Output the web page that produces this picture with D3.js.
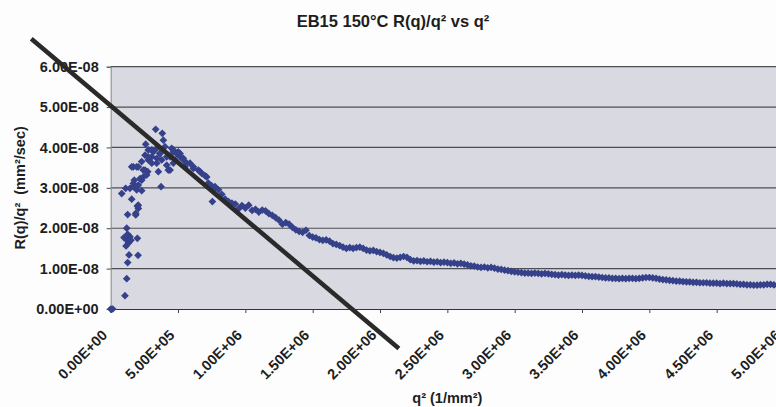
<!DOCTYPE html>
<html><head><meta charset="utf-8">
<script src="https://cdn.jsdelivr.net/npm/d3@7"></script>
<style>
html,body{margin:0;padding:0;background:#fdfdfd;}
svg{display:block;font-family:"Liberation Sans",Arial,sans-serif;}
</style></head>
<body><svg id="c" width="776" height="407"></svg>
<script>
const title = "EB15 150°C R(q)/q² vs q²";
const xTitle = "q² (1/mm²)";
const yTitle = "R(q)/q²  (mm²/sec)";
const Q2_UNIT = 1e5;   // q2 values below are in 1e5 1/mm²
const R_UNIT = 1e-8;   // rq values below are in 1e-8 mm²/sec
const xTickValues = [0,5e5,1e6,1.5e6,2e6,2.5e6,3e6,3.5e6,4e6,4.5e6,5e6];
const xTickLabels = ["0.00E+00","5.00E+05","1.00E+06","1.50E+06","2.00E+06","2.50E+06","3.00E+06","3.50E+06","4.00E+06","4.50E+06","5.00E+06"];
const yTickValues = [0,1e-8,2e-8,3e-8,4e-8,5e-8,6e-8];
const yTickLabels = ["0.00E+00","1.00E-08","2.00E-08","3.00E-08","4.00E-08","5.00E-08","6.00E-08"];

// rising, scattered part
const q2Early = [0,0.15,1.06,1.19,1.26,1.36,2.03,0.99,1.19,1.31,1.14,1.43,1.98,1.19,1.26,1.50,
  1.26,1.86,1.56,1.98,2.05,1.86,2.05,0.82,1.11,1.43,1.68,1.93,2.30,2.05,1.75,2.18,2.42,2.55,2.75,
  1.68,2.05,2.30,2.79,2.55,3.05,3.16,2.79,2.60,3.54,3.74,3.42,3.79,3.66,3.91,3.83,3.34,4.16,4.28,
  4.41,4.65,4.90,5.15,5.39,5.52,5.89,6.14,6.51,6.76,7.55,5.02,4.53,4.78,1.56,1.93,2.30,2.67,3.05,
  3.42,4.16,4.41,4.65,5.15,5.39,5.65,6.14,6.63,7.13,7.75,1.68,2.42,2.79,3.05,3.42,3.66,4.03,4.65,4.90];
const rqEarly = [0,0,0.33,0.75,1.15,1.34,1.33,1.77,1.71,1.63,1.56,1.79,1.75,2.00,1.85,1.70,
  2.34,2.37,2.72,2.55,2.49,2.33,2.57,2.86,2.99,2.99,3.03,2.95,2.93,3.07,3.19,3.23,3.27,3.44,3.40,
  3.52,3.52,3.65,3.69,3.81,3.77,3.89,3.94,4.08,3.40,3.03,3.61,3.69,3.85,4.18,4.35,4.45,3.56,3.44,
  3.77,3.89,3.85,3.77,3.69,3.52,3.61,3.48,3.44,3.36,2.66,3.89,3.98,3.69,3.52,3.52,3.19,3.32,3.61,
  3.73,3.77,3.44,3.61,3.85,3.73,3.61,3.52,3.40,3.27,3.03,3.11,3.44,3.77,3.94,3.98,3.85,4.02,3.94,3.85];

// decaying tail
const q2Tail = [7.00,7.25,7.50,7.75,8.00,8.25,8.50,8.75,9.00,9.25,9.50,9.75,10.00,
  10.25,10.50,10.75,11.00,11.25,11.50,11.75,12.00,12.25,12.50,12.75,13.00,13.25,13.50,13.75,14.00,
  14.25,14.50,14.75,15.00,15.25,15.50,15.75,16.00,16.25,16.50,16.75,17.00,17.25,17.50,17.75,18.00,
  18.25,18.50,18.75,19.00,19.25,19.50,19.75,20.00,20.25,20.50,20.75,21.00,21.25,21.50,21.75,22.00,
  22.25,22.50,22.75,23.00,23.25,23.50,23.75,24.00,24.25,24.50,24.75,25.00,25.25,25.50,25.75,26.00,
  26.25,26.50,26.75,27.00,27.25,27.50,27.75,28.00,28.25,28.50,28.75,29.00,29.25,29.50,29.75,30.00,
  30.25,30.50,30.75,31.00,31.25,31.50,31.75,32.00,32.25,32.50,32.75,33.00,33.25,33.50,33.75,34.00,
  34.25,34.50,34.75,35.00,35.25,35.50,35.75,36.00,36.25,36.50,36.75,37.00,37.25,37.50,37.75,38.00,
  38.25,38.50,38.75,39.00,39.25,39.50,39.75,40.00,40.25,40.50,40.75,41.00,41.25,41.50,41.75,42.00,
  42.25,42.50,42.75,43.00,43.25,43.50,43.75,44.00,44.25,44.50,44.75,45.00,45.25,45.50,45.75,46.00,
  46.25,46.50,46.75,47.00,47.25,47.50,47.75,48.00,48.25,48.50,48.75,49.00,49.25,49.50,49.75,50.00,
  50.25,50.50];
const rqTail = [3.30,3.12,3.05,2.98,2.95,2.84,2.72,2.66,2.62,2.60,2.48,2.56,2.50,
  2.57,2.44,2.47,2.40,2.45,2.43,2.36,2.32,2.26,2.20,2.10,2.14,2.10,2.02,1.96,1.92,
  1.90,1.95,1.82,1.78,1.76,1.72,1.70,1.71,1.68,1.62,1.60,1.57,1.53,1.50,1.52,1.50,
  1.52,1.53,1.50,1.46,1.44,1.45,1.42,1.40,1.38,1.34,1.30,1.27,1.26,1.28,1.30,1.28,
  1.22,1.19,1.20,1.18,1.19,1.17,1.18,1.16,1.17,1.15,1.16,1.15,1.13,1.14,1.12,1.13,
  1.11,1.09,1.07,1.06,1.04,1.03,1.04,1.02,1.03,1.01,0.99,0.98,0.96,0.95,0.93,0.92,
  0.91,0.90,0.89,0.89,0.88,0.89,0.88,0.87,0.88,0.87,0.86,0.85,0.84,0.85,0.84,0.83,
  0.84,0.83,0.84,0.83,0.82,0.81,0.80,0.80,0.79,0.78,0.77,0.77,0.76,0.76,0.75,0.76,
  0.75,0.76,0.76,0.75,0.76,0.77,0.78,0.78,0.77,0.76,0.74,0.73,0.72,0.71,0.70,0.69,
  0.69,0.68,0.67,0.67,0.66,0.66,0.65,0.65,0.65,0.64,0.64,0.64,0.63,0.64,0.63,0.63,
  0.63,0.62,0.61,0.61,0.60,0.60,0.59,0.59,0.60,0.60,0.61,0.61,0.60,0.59,0.58,0.58,
  0.58,0.57];

// hand-drawn straight line (initial slope)
const fitQ2 = [-5.9e5, 2.14e6];
const fitR = [6.69e-8, -0.98e-8];

const svg = d3.select("#c");
const mL = 110.7, mR = 784, mT = 66.7, mB = 309;
const x = d3.scaleLinear().domain([0, 5e6]).range([mL, mR]);
const y = d3.scaleLinear().domain([0, 6e-8]).range([mB, mT]);

const points = q2Early.map((v,i)=>({q:v*Q2_UNIT, r:rqEarly[i]*R_UNIT}))
  .concat(q2Tail.map((v,i)=>({q:v*Q2_UNIT, r:rqTail[i]*R_UNIT})));

// plot background
svg.append("rect").attr("x", mL).attr("y", mT).attr("width", mR-mL).attr("height", mB-mT)
  .attr("fill", "#d9d9e2");

// gridlines
svg.append("g").selectAll("line").data(yTickValues.slice(1)).join("line")
  .attr("x1", mL).attr("x2", mR).attr("y1", d=>y(d)).attr("y2", d=>y(d))
  .attr("stroke", "#4e4e52").attr("stroke-width", 1.2);

// axes
const yAxis = d3.axisLeft(y).tickValues(yTickValues).tickSize(4).tickFormat((d,i)=>yTickLabels[i]);
const gy = svg.append("g").attr("transform", `translate(${mL},0)`).call(yAxis);
gy.select(".domain").attr("stroke", "#8a8a90");
gy.selectAll(".tick line").attr("stroke", "#444");
gy.selectAll(".tick text").attr("x", -12).attr("font-size", 14.5).attr("font-weight", "bold")
  .attr("fill", "#1e1e1e").attr("font-family", "Liberation Sans, Arial, sans-serif");

const xAxis = d3.axisBottom(x).tickValues(xTickValues).tickSize(4).tickFormat((d,i)=>xTickLabels[i]);
const gx = svg.append("g").attr("transform", `translate(0,${mB})`).call(xAxis);
gx.select(".domain").attr("stroke", "#333").attr("stroke-width", 1.2);
gx.selectAll(".tick line").attr("stroke", "#444");
gx.selectAll(".tick text")
  .attr("font-size", 14.5).attr("font-weight", "bold").attr("fill", "#1e1e1e")
  .attr("font-family", "Liberation Sans, Arial, sans-serif")
  .attr("text-anchor", "end").attr("dy", null).attr("y", 0).attr("x", 0)
  .attr("transform", "translate(-3,27) rotate(-45)");

// markers
const sym = d3.symbol(d3.symbolSquare, 30);
svg.append("g").selectAll("path").data(points).join("path")
  .attr("d", sym)
  .attr("transform", d=>`translate(${x(d.q)},${y(d.r)}) rotate(45)`)
  .attr("fill", "#35418a");

// straight line
const line = d3.line().x(d=>x(d[0])).y(d=>y(d[1]));
svg.append("path").datum(fitQ2.map((v,i)=>[v, fitR[i]]))
  .attr("d", line).attr("stroke", "#2a2a2a").attr("stroke-width", 4.5).attr("fill", "none");

// titles
svg.append("text").attr("x", 393).attr("y", 27).attr("text-anchor", "middle")
  .attr("font-size", 16.5).attr("font-weight", "bold").attr("fill", "#1e1e1e").text(title);
svg.append("text").attr("x", (mL+mR)/2).attr("y", 403).attr("text-anchor", "middle")
  .attr("font-size", 14.5).attr("font-weight", "bold").attr("fill", "#1e1e1e").text(xTitle);
svg.append("text").attr("transform", `translate(24.5,${(mT+mB)/2}) rotate(-90)`)
  .attr("text-anchor", "middle").style("white-space", "pre")
  .attr("font-size", 14.5).attr("font-weight", "bold").attr("fill", "#1e1e1e").text(yTitle);
</script></body></html>
